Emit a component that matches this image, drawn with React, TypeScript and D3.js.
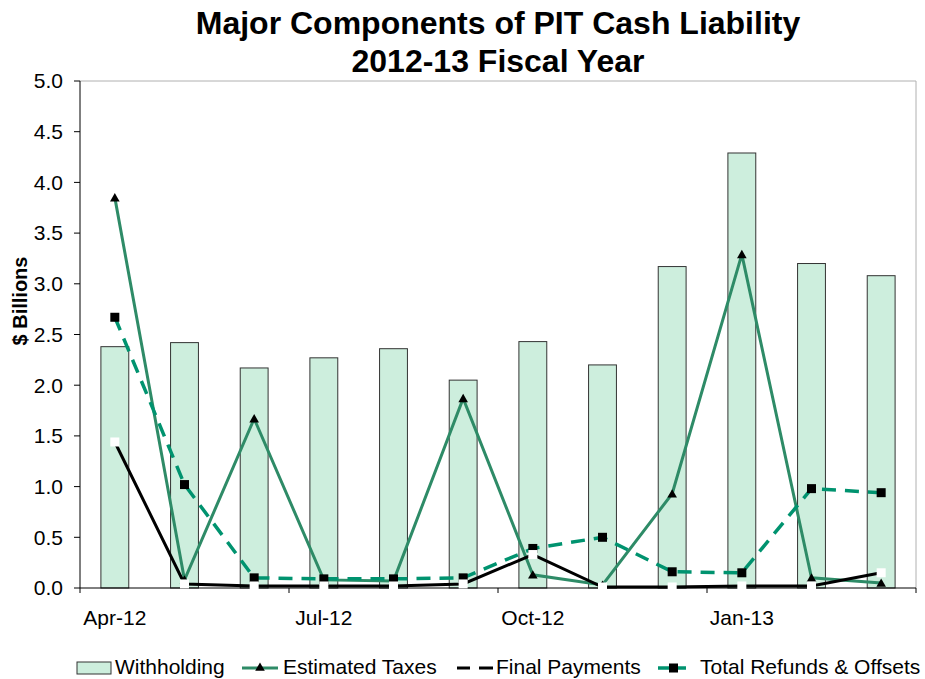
import React from 'react';
import * as d3 from 'd3';

const months = ['Apr-12', 'May-12', 'Jun-12', 'Jul-12', 'Aug-12', 'Sep-12', 'Oct-12', 'Nov-12', 'Dec-12', 'Jan-13', 'Feb-13', 'Mar-13'];
const tickLabels = ['Apr-12', 'Jul-12', 'Oct-12', 'Jan-13'];
const withholding = [2.38, 2.42, 2.17, 2.27, 2.36, 2.05, 2.43, 2.2, 3.17, 4.29, 3.2, 3.08];
const estimatedTaxes = [3.85, 0.08, 1.67, 0.08, 0.07, 1.87, 0.13, 0.03, 0.93, 3.29, 0.1, 0.05];
const finalPayments = [1.44, 0.04, 0.02, 0.02, 0.02, 0.04, 0.33, 0.01, 0.01, 0.02, 0.02, 0.15];
const refunds = [2.67, 1.02, 0.1, 0.09, 0.09, 0.1, 0.39, 0.5, 0.16, 0.15, 0.98, 0.94];
const yTicks = [0, 0.5, 1, 1.5, 2, 2.5, 3, 3.5, 4, 4.5, 5];

const W = 925;
const H = 679;
const margin = { left: 80, right: 9, top: 81, bottom: 91 };
const FONT = 'Liberation Sans, Arial, sans-serif';

const BAR_FILL = '#cdeedd';
const EST_COLOR = '#2e8b67';
const REF_COLOR = '#00936f';

const App: React.FC = () => {
  const x = d3.scaleBand<string>().domain(months).range([margin.left, W - margin.right]);
  const y = d3.scaleLinear().domain([0, 5]).range([H - margin.bottom, margin.top]);
  const barW = x.bandwidth() * 0.4;
  const cx = (m: string) => (x(m) || 0) + x.bandwidth() / 2;

  const line = d3.line<number>()
    .x((_, i) => cx(months[i]))
    .y(d => y(d));

  const tri = d3.symbol().type(d3.symbolTriangle).size(40)();
  const sq = 9;

  // boundaries every 3 months for bottom ticks
  const groupTicks = [0, 3, 6, 9, 12].map(i => margin.left + i * x.step());

  return (
    <svg width={W} height={H} style={{ display: 'block', position: 'absolute', left: 0, top: 0 }}>
      <rect width={W} height={H} fill="#fff" />
      <text x={498} y={34} textAnchor="middle" fontFamily={FONT} fontWeight="bold" fontSize={32}>Major Components of PIT Cash Liability</text>
      <text x={498} y={72} textAnchor="middle" fontFamily={FONT} fontWeight="bold" fontSize={32}>2012-13 Fiscal Year</text>

      {/* frame */}
      <line x1={margin.left} x2={W - margin.right} y1={y(5)} y2={y(5)} stroke="#b0b0b0" />
      <line x1={W - margin.right} x2={W - margin.right} y1={y(5)} y2={y(0)} stroke="#b0b0b0" />

      {/* bars */}
      {withholding.map((v, i) => (
        <rect key={i} x={cx(months[i]) - barW / 2} y={y(v)} width={barW} height={y(0) - y(v)}
          fill={BAR_FILL} stroke="#333" strokeWidth={1} />
      ))}

      {/* axes */}
      <line x1={margin.left} x2={margin.left} y1={y(5)} y2={y(0)} stroke="#000" />
      {yTicks.map(t => (
        <g key={t}>
          <line x1={margin.left - 6} x2={margin.left} y1={y(t)} y2={y(t)} stroke="#000" />
          <text x={63} y={y(t)} dy="0.35em" textAnchor="end" fontFamily={FONT} fontSize={21}>{t.toFixed(1)}</text>
        </g>
      ))}
      <line x1={margin.left} x2={W - margin.right} y1={y(0)} y2={y(0)} stroke="#000" />
      {groupTicks.map((gx, i) => (
        <line key={i} x1={gx} x2={gx} y1={y(0)} y2={y(0) + 5} stroke="#000" />
      ))}
      {tickLabels.map(t => (
        <text key={t} x={cx(t)} y={625} textAnchor="middle" fontFamily={FONT} fontSize={21}>{t}</text>
      ))}
      <text transform={`translate(27,301) rotate(-90)`} textAnchor="middle"
        fontFamily={FONT} fontWeight="bold" fontSize={20}>$ Billions</text>

      {/* Estimated taxes */}
      <path d={line(estimatedTaxes) || ''} fill="none" stroke={EST_COLOR} strokeWidth={3} />
      {estimatedTaxes.map((v, i) => (
        <path key={i} d={tri || ''} transform={`translate(${cx(months[i])},${y(v) + 1})`} fill="#000" />
      ))}

      {/* Refunds */}
      <path d={line(refunds) || ''} fill="none" stroke={REF_COLOR} strokeWidth={3.5} strokeDasharray="14,9" />
      {refunds.map((v, i) => (
        <rect key={i} x={cx(months[i]) - sq / 2} y={y(v) - sq / 2} width={sq} height={sq} fill="#000" />
      ))}

      {/* Final payments */}
      <path d={line(finalPayments) || ''} fill="none" stroke="#000" strokeWidth={3} />
      {finalPayments.map((v, i) => (
        <rect key={i} x={cx(months[i]) - sq / 2} y={y(v) - sq / 2} width={sq} height={sq} fill="#fff" />
      ))}

      {/* legend */}
      <g fontFamily={FONT} fontSize={21}>
        <rect x={77} y={662} width={34} height={12} fill={BAR_FILL} stroke="#333" />
        <text x={115} y={674}>Withholding</text>

        <line x1={242} x2={278} y1={668} y2={668} stroke={EST_COLOR} strokeWidth={3} />
        <path d={tri || ''} transform={`translate(260,668)`} fill="#000" />
        <text x={283} y={674}>Estimated Taxes</text>

        <line x1={457} x2={493} y1={668} y2={668} stroke="#000" strokeWidth={3} />
        <rect x={470} y={663.5} width={9} height={9} fill="#fff" />
        <text x={496} y={674}>Final Payments</text>

        <line x1={658} x2={686} y1={668} y2={668} stroke={REF_COLOR} strokeWidth={3.5} />
        <rect x={669} y={663.5} width={9} height={9} fill="#000" />
        <text x={700} y={674}>Total Refunds &amp; Offsets</text>
      </g>
    </svg>
  );
};

export default App;
